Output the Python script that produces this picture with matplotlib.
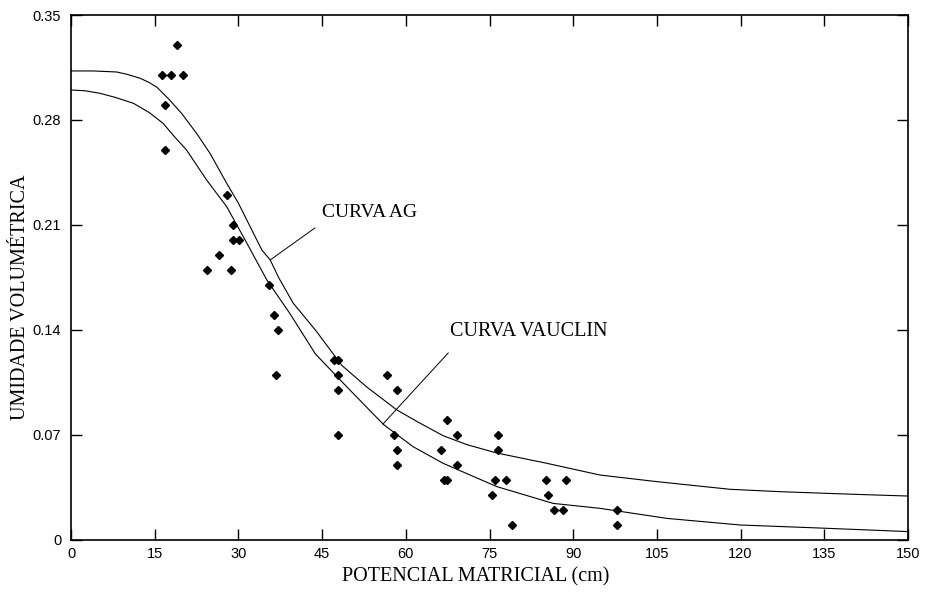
"""
Retention curve plot: observed soil moisture vs matric potential,
with the fitted AG and Vauclin curves.
"""

import matplotlib

matplotlib.use("Agg")
import matplotlib.pyplot as plt

# Observed points (cm, volumetric moisture)
obs_potential = [16.3, 18.0, 20.1, 19.0, 16.9, 16.9, 28.0, 29.0, 29.0, 30.1,
                 26.5, 24.4, 28.6, 35.4, 36.4, 37.1, 36.8, 47.2, 47.9, 47.8,
                 47.8, 47.8, 56.7, 58.4, 57.8, 58.4, 58.4, 67.4, 69.1, 66.3,
                 69.1, 66.8, 67.4, 76.5, 76.5, 75.9, 78.0, 75.4, 85.1, 88.7,
                 85.4, 79.0, 86.6, 88.2, 97.8, 97.8]
obs_moisture = [0.31, 0.31, 0.31, 0.33, 0.29, 0.26, 0.23, 0.21, 0.20, 0.20,
                0.19, 0.18, 0.18, 0.17, 0.15, 0.14, 0.11, 0.12, 0.12, 0.11,
                0.10, 0.07, 0.11, 0.10, 0.07, 0.06, 0.05, 0.08, 0.07, 0.06,
                0.05, 0.04, 0.04, 0.07, 0.06, 0.04, 0.04, 0.03, 0.04, 0.04,
                0.03, 0.01, 0.02, 0.02, 0.02, 0.01]

# Curva AG (upper)
ag_potential = [0, 4.0, 8.2, 10.0, 12.4, 14.0, 15.4, 17.5, 19.8, 22.5, 24.9,
                27.9, 30.0, 32.1, 34.2, 35.7, 37.2, 39.8, 44.0, 48.5, 53.0,
                58.4, 62.0, 66.7, 71.0, 76.3, 85.3, 94.8, 105.0, 118.1,
                127.1, 140.0, 150.0]
ag_moisture = [0.3127, 0.3127, 0.312, 0.3105, 0.3078, 0.305, 0.3018, 0.294,
               0.2845, 0.2711, 0.2578, 0.2378, 0.2245, 0.2089, 0.1933,
               0.1867, 0.175, 0.158, 0.139, 0.1165, 0.102, 0.0867, 0.079,
               0.0695, 0.0635, 0.058, 0.0511, 0.0433, 0.0389, 0.0338, 0.0322,
               0.0305, 0.0293]

# Curva Vauclin (lower)
vauclin_potential = [0, 2.5, 5.2, 8.0, 11.2, 14.0, 16.5, 18.5, 20.7, 24.3,
                     27.9, 31.2, 35.1, 39.2, 43.8, 49.4, 56.0, 61.3, 66.7,
                     76.3, 86.4, 94.8, 106.8, 119.9, 135.4, 150.0]
vauclin_moisture = [0.30, 0.2995, 0.2978, 0.295, 0.2911, 0.285, 0.2778,
                    0.269, 0.26, 0.24, 0.2222, 0.20, 0.1733, 0.1511, 0.124,
                    0.1022, 0.077, 0.0622, 0.0511, 0.0356, 0.0244, 0.0211,
                    0.0144, 0.01, 0.0078, 0.0056]

x_ticks = [0, 15, 30, 45, 60, 75, 90, 105, 120, 135, 150]
y_ticks = [0, 0.07, 0.14, 0.21, 0.28, 0.35]
y_tick_labels = ["0", "0.07", "0.14", "0.21", "0.28", "0.35"]

SERIF = ["Liberation Serif", "DejaVu Serif"]
TICK_FONT = ["Liberation Sans", "DejaVu Sans"]


def main():
    fig = plt.figure(figsize=(9.25, 5.93), dpi=100)
    ax = fig.add_axes([0.0768, 0.0894, 0.9048, 0.8853])

    ax.plot(ag_potential, ag_moisture, color="black", linewidth=0.8)
    ax.plot(vauclin_potential, vauclin_moisture, color="black", linewidth=0.8)
    ax.plot(obs_potential, obs_moisture, linestyle="none", marker="D",
            markersize=4.3, color="black")

    # leader lines + curve labels
    ax.plot([35.7, 43.7], [0.1867, 0.208], color="black", linewidth=0.7)
    ax.text(45.0, 0.218, "CURVA AG", family=SERIF, fontsize=14,
            va="center", ha="left")
    ax.plot([55.9, 67.6], [0.0773, 0.1247], color="black", linewidth=0.7)
    ax.text(67.9, 0.1387, "CURVA VAUCLIN", family=SERIF, fontsize=14.5,
            va="center", ha="left")

    ax.set_xlim(0, 150)
    ax.set_ylim(0, 0.35)
    ax.set_xticks(x_ticks)
    ax.set_xticklabels([str(t) for t in x_ticks], family=TICK_FONT, fontsize=10.5)
    ax.set_yticks(y_ticks)
    ax.set_yticklabels(y_tick_labels, family=TICK_FONT, fontsize=10.5)
    ax.tick_params(direction="in", length=8, width=1, top=True, right=True)
    ax.tick_params(axis="y", pad=7)
    ax.tick_params(axis="x", pad=5)

    for spine in ax.spines.values():
        spine.set_linewidth(1.2)

    ax.set_xlabel("POTENCIAL MATRICIAL (cm)", family=SERIF, fontsize=14.5)
    ax.xaxis.set_label_coords(0.483, -0.052)
    ax.set_ylabel("UMIDADE VOLUMÉTRICA", family=SERIF, fontsize=14.5)
    ax.yaxis.set_label_coords(-0.0485, 0.463)

    fig.savefig("out.png", dpi=100)
    plt.close(fig)


if __name__ == "__main__":
    main()
